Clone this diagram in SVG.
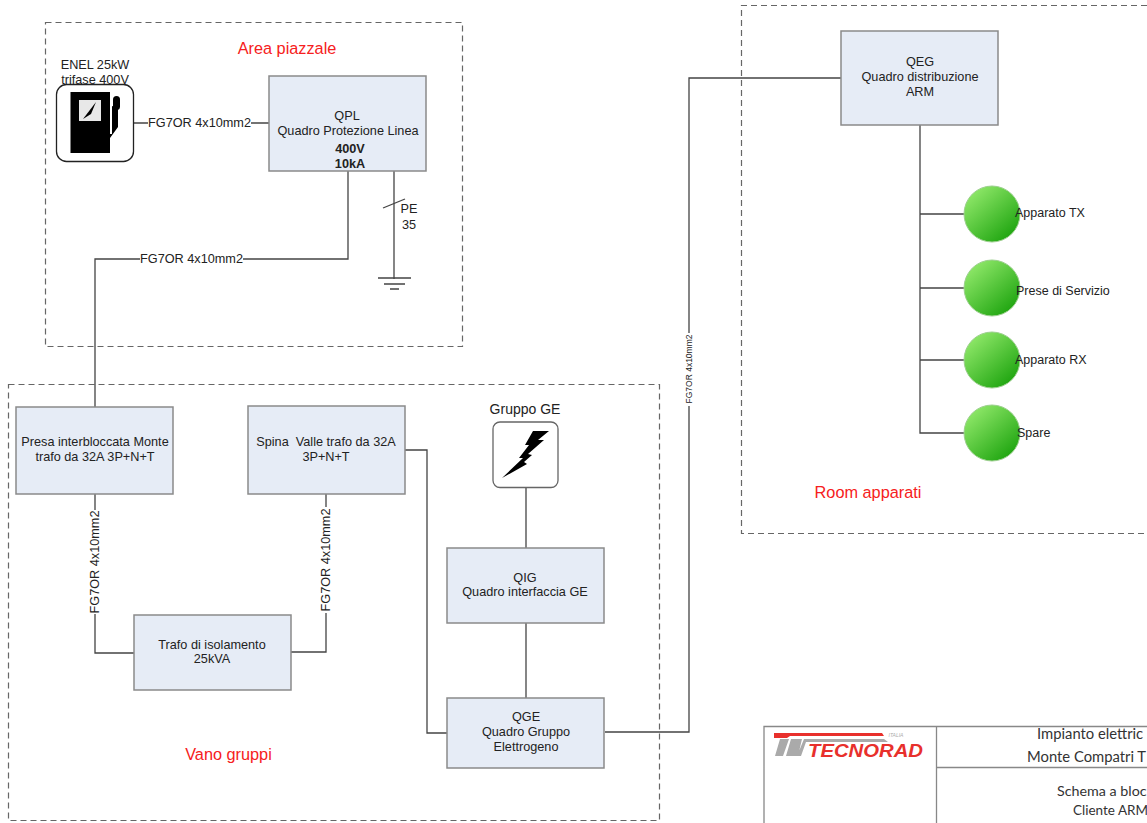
<svg xmlns="http://www.w3.org/2000/svg" width="1147" height="823" viewBox="0 0 1147 823">
<style>
text{font-family:"Liberation Sans",Arial,sans-serif;font-size:12.700px;fill:#222;text-anchor:middle}
.area{fill:none;stroke:#666;stroke-width:1.2;stroke-dasharray:6 4}
.box{fill:#e6ecf6;stroke:#8a8a8a;stroke-width:1.5}
.wire{fill:none;stroke:#444;stroke-width:1.3}
.lab{fill:#fff;stroke:none}
.red{fill:#f62020;font-size:16.300px}
.l{text-anchor:start;font-size:12.500px}
.b{font-weight:bold}
.tb{font-family:Lato,"Noto Sans",sans-serif;font-size:14.800px;fill:#333;text-anchor:start}
.tline{stroke:#888;stroke-width:1.3;fill:none}
.ball{fill:url(#g);stroke:#9ccf8e;stroke-width:1}
.icon{fill:#fff;stroke:#666;stroke-width:1.3}
</style>
<defs><linearGradient id="g" x1="0.15" y1="0.1" x2="0.85" y2="0.9"><stop offset="0" stop-color="#8ee768"/><stop offset="1" stop-color="#1fa510"/></linearGradient></defs>
<g id="areas">
<rect class="area" x="45.500" y="22.500" width="417" height="324"/>
<rect class="area" x="8.500" y="384.500" width="651" height="436"/>
<path class="area" d="M1147 5.500H741.500V533.500H1147"/>
<text class="red" x="287" y="54">Area piazzale</text>
<text class="red" x="228.500" y="760">Vano gruppi</text>
<text class="red" x="868" y="498">Room apparati</text>
</g>
<g id="connectors">
<path class="wire" d="M134 123H269"/>
<path class="wire" d="M348 171V259H95V407"/>
<path class="wire" d="M394 171V279"/>
<path class="wire" d="M383 208L405 199"/>
<path class="wire" d="M378 278H411M384 284H405M390 289H399"/>
<path class="wire" d="M95 494V653H134"/>
<path class="wire" d="M326 494V652H291"/>
<path class="wire" d="M405 450H427V733H447"/>
<path class="wire" d="M526 488V548"/>
<path class="wire" d="M526 623V698"/>
<path class="wire" d="M605 732H689V78H841"/>
<path class="wire" d="M920 125V433H965M920 214H965M920 288H965M920 360H965"/>
<rect class="lab" x="148" y="115" width="103" height="16"/>
<text x="199.500" y="127">FG7OR 4x10mm2</text>
<rect class="lab" x="140" y="251" width="103" height="16"/>
<text x="191.500" y="263">FG7OR 4x10mm2</text>
<rect class="lab" x="87" y="510" width="16" height="104"/>
<text transform="translate(99 562) rotate(-90)">FG7OR 4x10mm2</text>
<rect class="lab" x="318" y="507" width="16" height="106"/>
<text transform="translate(330 560) rotate(-90)">FG7OR 4x10mm2</text>
<rect class="lab" x="683" y="333" width="12" height="73"/>
<text style="font-size:8.500px" transform="translate(692 369) rotate(-90)">FG7OR 4x10mm2</text>
<text x="409" y="213">PE</text>
<text x="409" y="229">35</text>
</g>
<g id="enel">
<text x="95" y="69">ENEL 25kW</text>
<text x="95" y="84">trifase 400V</text>
<rect class="icon" x="56.500" y="84.500" width="77" height="77" rx="10" style="stroke:#222"/>
<path fill="#000" d="M70.500 92H110V153H70.500Z"/>
<path fill="#000" d="M110 138L118 127V108L112 106V134H110Z"/>
<rect x="113" y="96" width="7" height="14" rx="3.500" fill="#000"/>
<rect x="79" y="100" width="22" height="21" fill="#e8e8e8"/>
<path d="M83 119L96 102L91 114Z" fill="#000"/>
</g>
<g id="qpl">
<rect class="box" x="269" y="76" width="157" height="95"/>
<text x="347" y="120">QPL</text>
<text x="348" y="135">Quadro Protezione Linea</text>
<text class="b" x="350" y="153">400V</text>
<text class="b" x="350" y="168">10kA</text>
</g>
<g id="presa">
<rect class="box" x="16" y="407" width="157" height="87"/>
<text x="95" y="446">Presa interbloccata Monte</text>
<text x="95" y="461">trafo da 32A 3P+N+T</text>
</g>
<g id="spina">
<rect class="box" x="248" y="406" width="157" height="88"/>
<text x="326" y="446" xml:space="preserve">Spina  Valle trafo da 32A</text>
<text x="326" y="461">3P+N+T</text>
</g>
<g id="trafo">
<rect class="box" x="134" y="615" width="157" height="75"/>
<text x="212" y="649">Trafo di isolamento</text>
<text x="212" y="663">25kVA</text>
</g>
<g id="gruppo-ge">
<text x="525" y="414" style="font-size:14px">Gruppo GE</text>
<rect class="icon" x="493" y="422" width="65" height="65.500" rx="7"/>
<path fill="#000" d="M549 431L533 431L525 445L529 445L519 458L523 458L502 478L527 464L524 462L532 455L528 454L544 440L538 440Z"/>
</g>
<g id="qig">
<rect class="box" x="447" y="548" width="157" height="75"/>
<text x="525" y="582">QIG</text>
<text x="525" y="596">Quadro interfaccia GE</text>
</g>
<g id="qge">
<rect class="box" x="447" y="698" width="157" height="70"/>
<text x="526" y="721">QGE</text>
<text x="526" y="736">Quadro Gruppo</text>
<text x="526" y="751">Elettrogeno</text>
</g>
<g id="qeg">
<rect class="box" x="841" y="31" width="157" height="94"/>
<text x="920" y="66">QEG</text>
<text x="920" y="81">Quadro distribuzione</text>
<text x="920" y="96">ARM</text>
</g>
<g id="tx"><circle class="ball" cx="992" cy="214" r="28"/><text class="l" x="1015" y="217">Apparato TX</text></g>
<g id="prese"><circle class="ball" cx="992" cy="288" r="28"/><text class="l" x="1016" y="295">Prese di Servizio</text></g>
<g id="rx"><circle class="ball" cx="992" cy="360" r="28"/><text class="l" x="1015" y="364">Apparato RX</text></g>
<g id="spare"><circle class="ball" cx="992" cy="433" r="28"/><text class="l" x="1017" y="437">Spare</text></g>
<g id="cartiglio">
<path class="tline" d="M764 823V726.500H1147M936.500 726.500V823M936.500 767.500H1147"/>
<g id="logo">
<path fill="#e8302c" d="M774 733H882L884 736H790L787 738H774Z"/>
<path fill="#aaa" d="M780 739H789L783 756H775ZM791 739H802L798 756H786ZM804 739H884L888 742H806L801 756H797Z"/>
<text x="808" y="757" textLength="115" lengthAdjust="spacingAndGlyphs" style="font-size:19px;font-weight:bold;font-style:italic;fill:#e8302c;text-anchor:start">TECNORAD</text>
<text x="896" y="737" style="font-size:5px;fill:#aaa;font-style:italic">ITALIA</text>
</g>
<text class="tb" x="1037" y="739">Impianto elettric</text>
<text class="tb" x="1027" y="762">Monte Compatri T</text>
<text class="tb" x="1057" y="796" style="font-size:14.300px">Schema a bloc</text>
<text class="tb" x="1073" y="815" style="font-size:13.500px">Cliente ARM</text>
</g>
</svg>
